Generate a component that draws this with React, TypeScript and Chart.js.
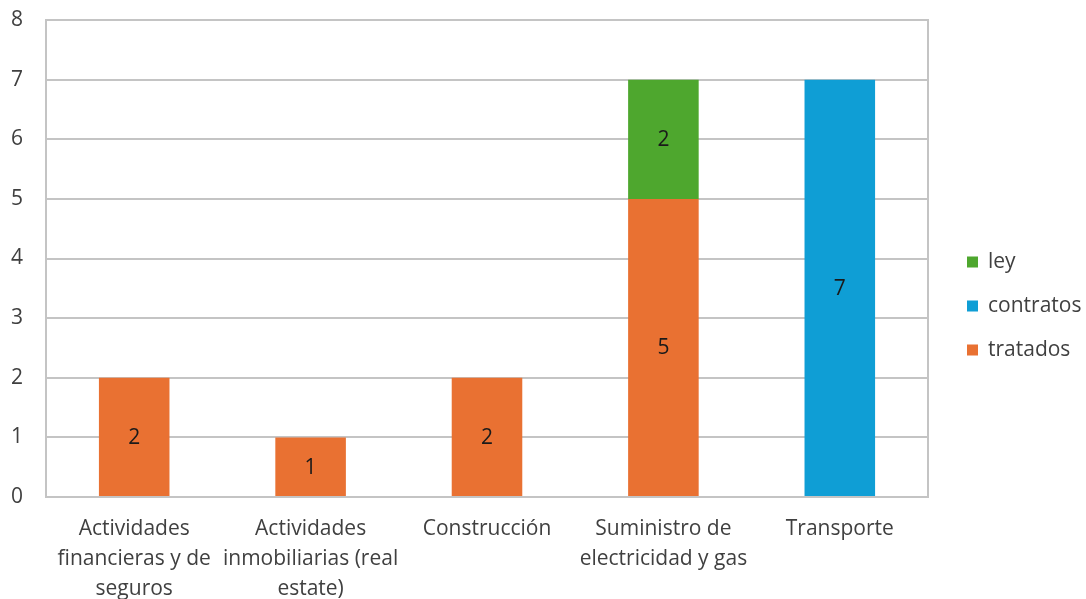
import React, { useEffect, useRef } from "react";
import { Chart, registerables } from "chart.js";

Chart.register(...registerables);

const categories: (string | string[])[] = [
  ["Actividades", "financieras y de", "seguros"],
  ["Actividades", "inmobiliarias (real", "estate)"],
  "Construcción",
  ["Suministro de", "electricidad y gas"],
  "Transporte",
];

const tratados: (number | null)[] = [2, 1, 2, 5, null];
const contratos: (number | null)[] = [null, null, null, null, 7];
const ley: (number | null)[] = [null, null, null, 2, null];

const yTicks = [0, 1, 2, 3, 4, 5, 6, 7, 8];

const FONT = "'Open Sans', sans-serif";
const TEXT = "#404040";

const frame = {
  id: "frame",
  beforeDatasetsDraw(chart: any) {
    const { ctx, chartArea } = chart;
    ctx.save();
    ctx.strokeStyle = "#C4C4C4";
    ctx.lineWidth = 2;
    ctx.strokeRect(chartArea.left, chartArea.top, chartArea.right - chartArea.left, chartArea.bottom - chartArea.top);
    ctx.restore();
  },
};

const valueLabels = {
  id: "valueLabels",
  afterDatasetsDraw(chart: any) {
    const { ctx } = chart;
    ctx.save();
    ctx.font = `21px ${FONT}`;
    ctx.fillStyle = "#1a1a1a";
    ctx.textAlign = "center";
    ctx.textBaseline = "middle";
    chart.data.datasets.forEach((ds: any, di: number) => {
      const meta = chart.getDatasetMeta(di);
      meta.data.forEach((bar: any, i: number) => {
        const v = ds.data[i];
        if (v === null || v === undefined || v === 0) return;
        const p = bar.getProps(["x", "y", "base"], true);
        ctx.fillText(String(v), p.x, (p.y + p.base) / 2 + 1);
      });
    });
    ctx.restore();
  },
};

const sideLegend = {
  id: "sideLegend",
  afterDraw(chart: any) {
    const { ctx, chartArea } = chart;
    const items = chart.data.datasets.map((d: any) => ({ label: d.label, color: d.backgroundColor })).reverse();
    const spacing = 44;
    const startY = 262;
    const boxX = chartArea.right + 39;
    ctx.save();
    ctx.font = `21px ${FONT}`;
    ctx.textBaseline = "middle";
    ctx.textAlign = "left";
    items.forEach((it: any, i: number) => {
      const y = startY + i * spacing;
      ctx.fillStyle = it.color;
      ctx.fillRect(boxX, y - 5.5, 11, 11);
      ctx.fillStyle = TEXT;
      ctx.fillText(it.label, boxX + 21, y);
    });
    ctx.restore();
  },
};

export default function App() {
  const ref = useRef<HTMLCanvasElement | null>(null);
  useEffect(() => {
    document.body.style.margin = "0";
    const canvas = ref.current;
    if (!canvas) return;
    const chart = new Chart(canvas, {
      type: "bar",
      data: {
        labels: categories,
        datasets: [
          { label: "tratados", data: tratados, backgroundColor: "#E97132" },
          { label: "contratos", data: contratos, backgroundColor: "#0F9ED5" },
          { label: "ley", data: ley, backgroundColor: "#4EA72E" },
        ],
      },
      options: {
        responsive: false,
        animation: false,
        layout: { padding: { left: 11, top: 20, right: 158, bottom: 0 } },
        plugins: {
          legend: { display: false },
          tooltip: { enabled: false },
        },
        datasets: { bar: { barPercentage: 1, categoryPercentage: 0.4 } },
        scales: {
          x: {
            stacked: true,
            grid: { display: false, drawTicks: false },
            border: { display: false },
            afterFit: (axis: any) => {
              axis.height = 102;
            },
            ticks: {
              color: TEXT,
              font: { family: FONT, size: 21, lineHeight: 1.42 },
              padding: 17,
              maxRotation: 0,
              autoSkip: false,
            },
          },
          y: {
            stacked: true,
            min: 0,
            max: 8,
            afterBuildTicks: (axis: any) => {
              axis.ticks = yTicks.map((v) => ({ value: v }));
            },
            afterFit: (axis: any) => {
              axis.width = 35;
              axis.paddingTop = 0;
              axis.paddingBottom = 0;
            },
            grid: { color: "#C4C4C4", lineWidth: 2, drawTicks: false },
            border: { display: false },
            ticks: {
              color: TEXT,
              font: { family: FONT, size: 21 },
              padding: 23,
            },
          },
        },
      },
      plugins: [frame, valueLabels, sideLegend],
    });
    return () => chart.destroy();
  }, []);
  return <canvas ref={ref} width={1086} height={599} style={{ display: "block" }} />;
}
